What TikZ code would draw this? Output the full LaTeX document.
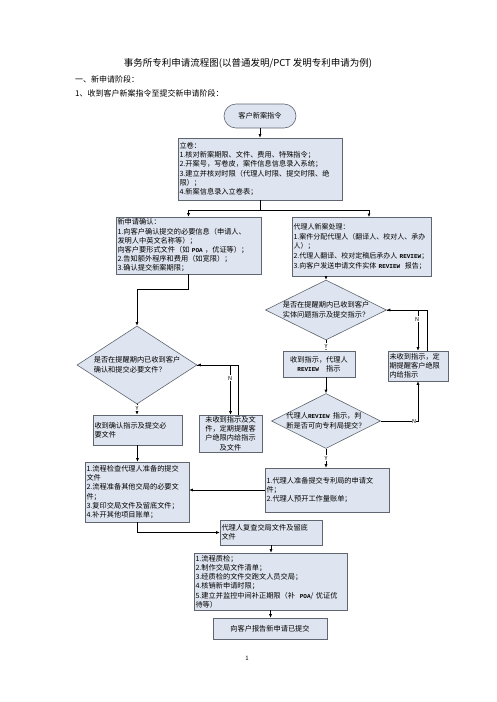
\documentclass[tikz,border=0pt]{standalone}
\usepackage{fontspec}
\setmainfont{Noto Sans CJK SC}
\newfontfamily\monofam{Liberation Mono}
\usetikzlibrary{arrows.meta,shapes.geometric}
\definecolor{boxfill}{HTML}{DFE5F0}
\definecolor{boxline}{HTML}{5F6670}
\newcommand{\rvw}{{\monofam\bfseries\fontsize{6}{7}\selectfont REVIEW}}
\newcommand{\poa}{{\monofam\bfseries\fontsize{6}{7}\selectfont POA}}
\begin{document}
\begin{tikzpicture}[x=1pt,y=-1pt,
  box/.style={draw=boxline, fill=boxfill, line width=0.6pt, inner xsep=1.5pt, inner ysep=1pt,
    font=\fontsize{7.2}{9.2}\selectfont, align=left},
  cbox/.style={box, align=center},
  dia/.style={draw=boxline, fill=boxfill, line width=0.6pt, shape=diamond, inner sep=0pt},
  dtext/.style={font=\fontsize{7.2}{10}\selectfont, align=left, inner sep=0pt},
  conn/.style={draw=black, line width=0.6pt},
  arr/.style={conn, -{Latex[length=3.5pt,width=3pt]}},
  yn/.style={font=\fontsize{5.5}{6}\selectfont, fill=white, inner sep=0.5pt}]
\fill[white] (0,0) rectangle (496,702);
\useasboundingbox (0,0) rectangle (496,702);

% headings
\node[font=\fontsize{9.5}{11}\selectfont] (title) at (248,63) {事务所专利申请流程图(以普通发明/PCT 发明专利申请为例)};
\node[font=\fontsize{8}{10}\selectfont, anchor=west, inner sep=0pt] (h1) at (75,79) {一、新申请阶段：};
\node[font=\fontsize{8}{10}\selectfont, anchor=west, inner sep=0pt] (h2) at (75,93) {1、收到客户新案指令至提交新申请阶段：};

% start
\node[cbox, rounded corners=12pt, minimum width=72pt, minimum height=24pt] (start) at (260,116) {客户新案指令};

% boxes
\node[box, minimum width=164pt, minimum height=62pt, text width=161pt] (b1) at (260,169)
 {立卷：\\1.核对新案期限、文件、费用、特殊指令；\\2.开案号，写卷皮，案件信息信息录入系统；\\3.建立并核对时限（代理人时限、提交时限、绝\\限）；\\4.新案信息录入立卷表；};

\node[box, minimum width=145pt, minimum height=57pt, text width=142pt] (b2) at (188.5,245.5)
 {新申请确认：\\1.向客户确认提交的必要信息（申请人、\\发明人中英文名称等）；\\向客户要形式文件（如 \poa\ ，优证等）；\\2.告知额外程序和费用（如宽限）；\\3.确认提交新案期限；};

\node[box, font=\fontsize{7}{9.6}\selectfont, minimum width=139pt, minimum height=59pt, text width=136pt] (b3) at (361.5,246.5)
 {代理人新案处理：\\1.案件分配代理人（翻译人、校对人、承办\\人）；\\2.代理人翻译、校对定稿后承办人 \rvw；\\3.向客户发送申请文件实体 \rvw\ \ 报告；};

\node[dia, minimum width=121pt, minimum height=60pt,
  label={[dtext, align=center]center:是否在提醒期内已收到客户\\实体问题指示及提交指示？}] (d1) at (326,310) {};

\node[cbox, minimum width=72pt, minimum height=26pt, text width=69pt] (b4) at (319,364)
 {收到指示，代理人\\\rvw\quad 指示};

\node[box, minimum width=60pt, minimum height=30pt, text width=57pt] (b5) at (418,366)
 {未收到指示，定\\期提醒客户绝限\\内给指示};

\node[dia, minimum width=120pt, minimum height=78pt,
  label={[dtext]center:是否在提醒期内已收到客户\\确认和提交必要文件？}] (d2) at (137,365) {};

\node[box, minimum width=89pt, minimum height=30pt, text width=86pt] (b6) at (137.5,430)
 {收到确认指示及提交必\\要文件};

\node[cbox, minimum width=63pt, minimum height=37pt, text width=60pt, inner ysep=0.3pt] (b7) at (230.5,433.5)
 {未收到指示及文\\件，定期提醒客\\户绝限内给指示\\及文件};

\node[dia, minimum width=109pt, minimum height=55pt,
  label={[dtext]center:代理人\rvw\ \ 指示，判\\断是否可向专利局提交？}] (d3) at (326,421) {};

\node[box, minimum width=124pt, minimum height=44pt, text width=121pt] (b8) at (327,490)
 {1.代理人准备提交专利局的申请文\\件；\\2.代理人预开工作量账单；};

\node[box, minimum width=104pt, minimum height=60pt, text width=101pt] (b9) at (137,492)
 {1.流程检查代理人准备的提交\\文件\\2.流程准备其他交局的必要文\\件；\\3.复印交局文件及留底文件；\\4.补开其他项目账单；};

\node[box, minimum width=102pt, minimum height=25pt, text width=99pt] (b10) at (271,532.5)
 {代理人复查交局文件及留底\\文件};

\node[box, minimum width=153pt, minimum height=57pt, text width=150pt] (b11) at (270.5,581.5)
 {1.流程质检；\\2.制作交局文件清单；\\3.经质检的文件交跑文人员交局；\\4.核销新申请时限；\\5.建立并监控中间补正期限（补\ \ \poa/ 优证优\\待等）};

\node[cbox, minimum width=114pt, minimum height=21pt] (b12) at (270,628.5) {向客户报告新申请已提交};

\node[font=\fontsize{6}{7}\selectfont] (pg) at (247,658) {1};

% connectors
\coordinate (j1) at (260,210);
\coordinate (b3in) at (369,217);
\coordinate (j2) at (188.5,289);
\coordinate (b5out) at (427,351);
\coordinate (b7out) at (238,415);

\draw[arr] (start.south) -- (b1.north);
\draw[conn] (b1.south) -- (j1);
\draw[arr] (j1) -| (b2.north);
\draw[arr] (j1) -| (b3in);
\draw[arr] (b3.south -| d1.north) -- (d1.north);
\draw[arr] (d1.south) -- (d1.south |- b4.north);
\draw[arr] (d1.east) -| (b5.north);
\draw[arr] (b5out) |- (d1.east);
\draw[arr] (d3.north |- b4.south) -- (d3.north);
\draw[arr] (d3.east) -| (b5.south);
\draw[arr] (d3.south) -- (d3.south |- b8.north);
\draw[arr] (b8.west) -- (b8.west -| b9.east);

\draw[arr] (b2.south) -- (j2) -| (d2.north);
\draw[arr] (d2.south) -- (d2.south |- b6.north);
\draw[arr] (d2.east) -| (b7.north);
\draw[arr] (b7out) |- (d2.east);
\draw[arr] (b6.south) -- (b6.south |- b9.north);
\draw[arr] (b9.south) |- (b10.west);
\draw[arr] (b10.south) -- (b10.south |- b11.north);
\draw[arr] (b11.south) -- (b11.south |- b12.north);

% Y / N labels
\node[yn] (y1) at (326,346) {Y};
\node[yn] (n1) at (417,319) {N};
\node[yn] (y2) at (137,408) {Y};
\node[yn] (n2) at (230,378) {N};
\node[yn] (n3) at (414,421) {N};
\node[yn] (y3) at (326,458) {Y};
\end{tikzpicture}
\end{document}
